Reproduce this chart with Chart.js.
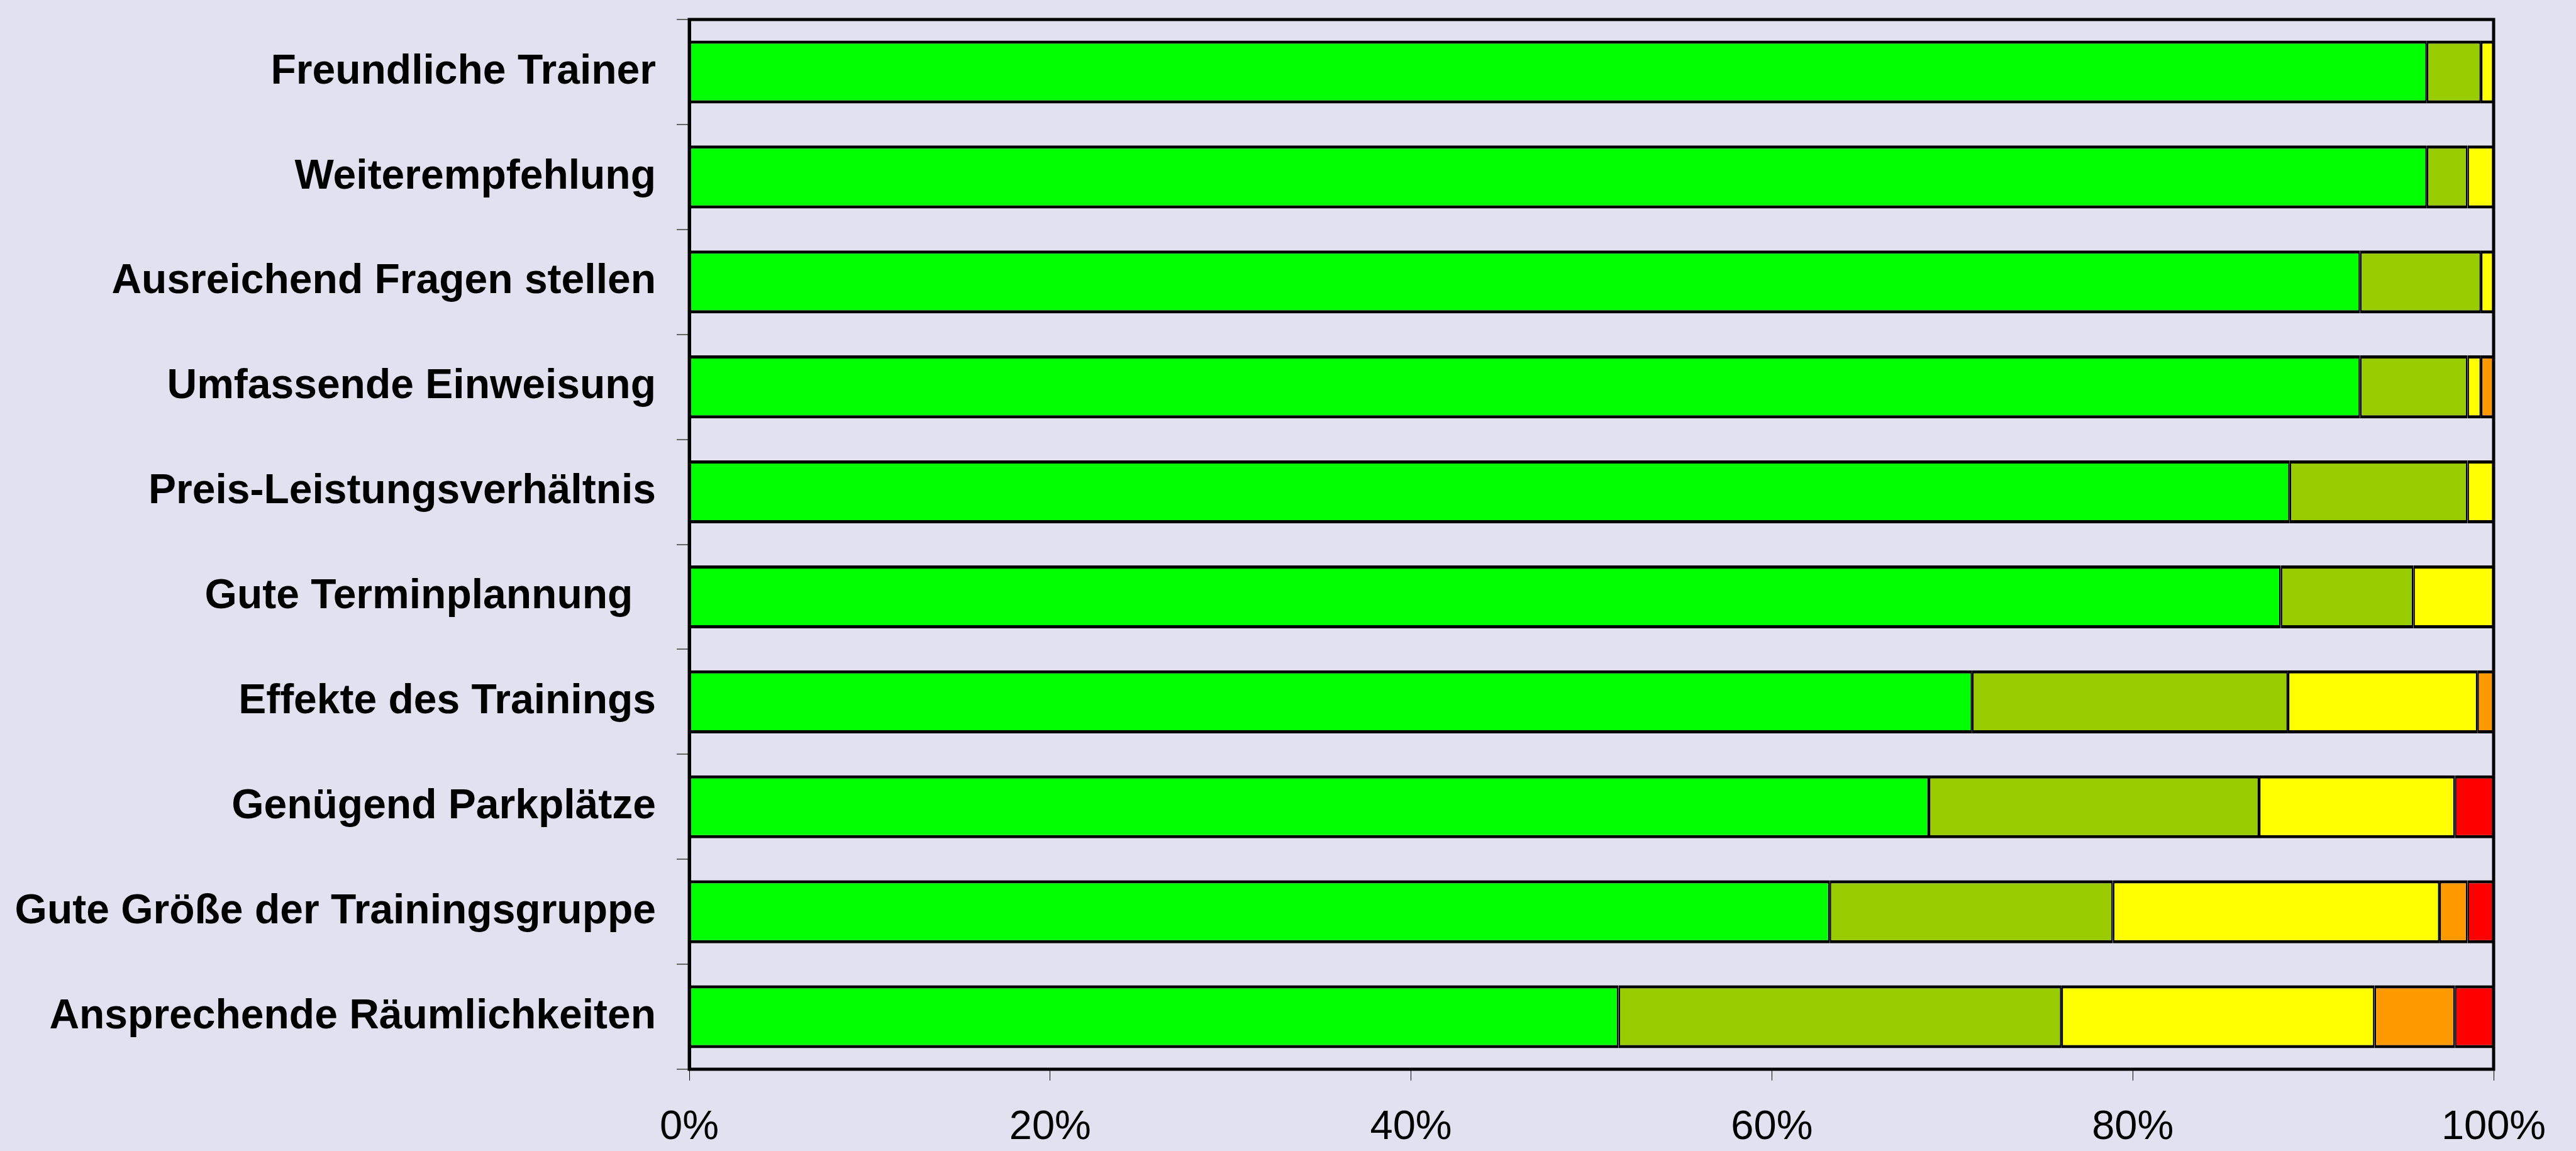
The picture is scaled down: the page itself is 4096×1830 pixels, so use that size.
<!DOCTYPE html>
<html>
<head>
<meta charset="utf-8">
<script src="https://cdn.jsdelivr.net/npm/chart.js@4.4.1/dist/chart.umd.min.js"></script>
<style>
  html, body { margin: 0; padding: 0; background: #E2E1EF; overflow: hidden; }
  canvas { display: block; }
</style>
</head>
<body>
<canvas id="chart" width="4096" height="1830"></canvas>
<script>
// ===== Data (percent per rating) =====
let categories = [
  "Freundliche Trainer",
  "Weiterempfehlung",
  "Ausreichend Fragen stellen",
  "Umfassende Einweisung",
  "Preis-Leistungsverhältnis",
  "Gute Terminplannung  ",
  "Effekte des Trainings",
  "Genügend Parkplätze",
  "Gute Größe der Trainingsgruppe",
  "Ansprechende Räumlichkeiten"
];

let sehrGut      = [96.3, 96.3, 92.6, 92.6, 88.7, 88.2, 71.1, 68.7, 63.2, 51.5];
let gut          = [3.0, 2.25, 6.7, 5.95, 9.85, 7.35, 17.5, 18.3, 15.7, 24.55];
let mittel       = [0.7, 1.45, 0.7, 0.75, 1.45, 4.45, 10.5, 10.85, 18.1, 17.35];
let schlecht     = [null, null, null, 0.7, null, null, 0.9, null, 1.55, 4.45];
let sehrSchlecht = [null, null, null, null, null, null, null, 2.15, 1.45, 2.15];

let xTicks = [0, 20, 40, 60, 80, 100];

// ===== Styles =====
let colors = ["#00FF00", "#99CC00", "#FFFF00", "#FF9900", "#FF0000"];
let fontFamily = "'Liberation Sans', Arial, sans-serif";

function makeSet(label, data, color) {
  return {
    label: label,
    data: data,
    backgroundColor: color,
    borderColor: "#000000",
    borderWidth: { top: 5, bottom: 5, left: 2.5, right: 2.5 },
    borderSkipped: false,
    barPercentage: 0.6,
    categoryPercentage: 1.0
  };
}

// ===== Frame round the plot area =====
let framePlugin = {
  id: "frame",
  afterDatasetsDraw(chart) {
    let a = chart.chartArea;
    let ctx = chart.ctx;
    ctx.save();
    ctx.strokeStyle = "#000000";
    ctx.lineWidth = 5;
    ctx.strokeRect(a.left, a.top, a.right - a.left, a.bottom - a.top);
    ctx.restore();
  }
};

// ===== Chart =====
let ctx = document.getElementById("chart").getContext("2d");

new Chart(ctx, {
  type: "bar",
  data: {
    labels: categories,
    datasets: [
      makeSet("sehr gut", sehrGut, colors[0]),
      makeSet("gut", gut, colors[1]),
      makeSet("mittel", mittel, colors[2]),
      makeSet("schlecht", schlecht, colors[3]),
      makeSet("sehr schlecht", sehrSchlecht, colors[4])
    ]
  },
  options: {
    indexAxis: "y",
    responsive: false,
    animation: false,
    devicePixelRatio: 1,
    layout: { padding: { top: 31, right: 131, bottom: 0, left: 0 } },
    plugins: {
      legend: { display: false },
      tooltip: { enabled: false }
    },
    scales: {
      x: {
        stacked: true,
        min: 0,
        max: 100,
        afterBuildTicks: scale => {
          scale.ticks = xTicks.map(v => ({ value: v }));
        },
        afterFit: scale => { scale.height = 130; },
        ticks: {
          callback: v => v + "%",
          color: "#000000",
          font: { family: fontFamily, size: 65 },
          padding: 36,
          maxRotation: 0
        },
        grid: {
          drawOnChartArea: false,
          drawTicks: true,
          tickLength: 18,
          color: "#000000",
          lineWidth: 1
        },
        border: { color: "#000000", width: 4 }
      },
      y: {
        stacked: true,
        afterFit: scale => {
          scale.width = 1096;
          scale.paddingTop = 0;
          scale.paddingBottom = 0;
        },
        ticks: {
          color: "#000000",
          font: { family: fontFamily, size: 66, weight: "bold" },
          padding: 33
        },
        grid: {
          offset: true,
          drawOnChartArea: false,
          drawTicks: true,
          tickLength: 20,
          color: "#666666",
          lineWidth: 2
        },
        border: { color: "#000000", width: 5 }
      }
    }
  },
  plugins: [framePlugin]
});
</script>
</body>
</html>
